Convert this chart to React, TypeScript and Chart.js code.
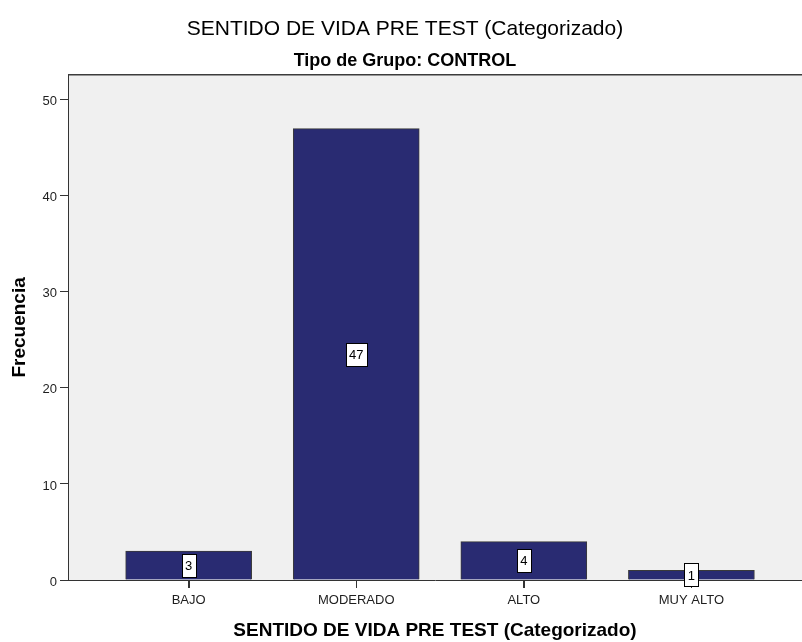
import React, { useEffect, useRef } from "react";
import { Chart, registerables } from "chart.js";

Chart.register(...registerables);

const categories = ["BAJO", "MODERADO", "ALTO", "MUY ALTO"];
const frequencies = [3, 47, 4, 1];
const yTicks = [0, 10, 20, 30, 40, 50];

const FONT = "'Liberation Sans', Arial, sans-serif";

const plotBackground = {
  id: "plotBackground",
  beforeDraw(chart: any) {
    const { ctx, chartArea } = chart;
    ctx.save();
    ctx.fillStyle = "#f0f0f0";
    ctx.fillRect(chartArea.left, chartArea.top, chartArea.right - chartArea.left, chartArea.bottom - chartArea.top);
    ctx.restore();
  },
  beforeDatasetsDraw(chart: any) {
    const { ctx, chartArea, scales } = chart;
    ctx.save();
    ctx.strokeStyle = "#333";
    ctx.lineWidth = 1;
    categories.forEach((_, i) => {
      const x = Math.round(scales.x.getPixelForValue(i)) + 0.5;
      ctx.beginPath();
      ctx.moveTo(x, chartArea.bottom);
      ctx.lineTo(x, chartArea.bottom + 8);
      ctx.stroke();
    });
    ctx.restore();
  },
  afterDraw(chart: any) {
    const { ctx, chartArea } = chart;
    ctx.save();
    ctx.strokeStyle = "#3c3c3c";
    ctx.lineWidth = 1.5;
    ctx.beginPath();
    ctx.moveTo(chartArea.left, chartArea.top);
    ctx.lineTo(chartArea.right, chartArea.top);
    ctx.stroke();
    ctx.restore();
  },
};

const boxLabels = {
  id: "boxLabels",
  afterDatasetsDraw(chart: any) {
    const { ctx } = chart;
    const meta = chart.getDatasetMeta(0);
    ctx.save();
    ctx.font = `13px ${FONT}`;
    ctx.textAlign = "center";
    ctx.textBaseline = "middle";
    meta.data.forEach((bar: any, i: number) => {
      const text = String(frequencies[i]);
      const cy = (bar.y + bar.base) / 2;
      const w = ctx.measureText(text).width + 7;
      const h = 23;
      const x0 = Math.round(bar.x - w / 2) + 0.5;
      const y0 = Math.round(cy - h / 2) + 0.5;
      ctx.fillStyle = "#ffffff";
      ctx.fillRect(x0, y0, Math.round(w), h);
      ctx.strokeStyle = "#000000";
      ctx.lineWidth = 1;
      ctx.strokeRect(x0, y0, Math.round(w), h);
      ctx.fillStyle = "#000000";
      ctx.fillText(text, bar.x, cy + 1);
    });
    ctx.restore();
  },
};

export default function App() {
  const canvasRef = useRef<HTMLCanvasElement | null>(null);

  useEffect(() => {
    document.body.style.margin = "0";
    const canvas = canvasRef.current;
    if (!canvas) return;
    const chart = new Chart(canvas, {
      type: "bar",
      data: {
        datasets: [
          {
            data: frequencies.map((v, i) => ({ x: i, y: v })),
            backgroundColor: "#292b72",
            borderColor: "#3a3a3a",
            borderWidth: 1,
            barThickness: 126,
          },
        ],
      },
      options: {
        responsive: false,
        animation: false,
        devicePixelRatio: 1,
        layout: { padding: { left: 8, right: 0, top: 0, bottom: 0 } },
        plugins: {
          legend: { display: false },
          tooltip: { enabled: false },
          title: {
            display: true,
            text: "SENTIDO DE VIDA PRE TEST (Categorizado)",
            color: "#000",
            font: { family: FONT, size: 21, weight: "normal" },
            padding: { top: 17, bottom: 0 },
          },
          subtitle: {
            display: true,
            text: "Tipo de Grupo: CONTROL",
            color: "#000",
            font: { family: FONT, size: 18, weight: "bold" },
            padding: { top: 8, bottom: 3 },
          },
        },
        scales: {
          x: {
            type: "linear",
            min: -0.72,
            max: 3.66,
            offset: false,
            afterBuildTicks: (scale: any) => {
              scale.ticks = categories.map((_, i) => ({ value: i }));
            },
            afterFit: (scale: any) => {
              scale.height = 62;
            },
            grid: {
              offset: false,
              drawOnChartArea: false,
              drawTicks: true,
              tickLength: 8,
              color: "#333",
            },
            border: { display: true, color: "#333", width: 1 },
            ticks: {
              autoSkip: false,
              maxRotation: 0,
              padding: 5,
              color: "#1e1e1e",
              font: { family: FONT, size: 13 },
              callback: (v: any) => categories[v] ?? "",
            },
            title: {
              display: true,
              text: "SENTIDO DE VIDA PRE TEST (Categorizado)",
              color: "#000",
              font: { family: FONT, size: 19, weight: "bold" },
              padding: { top: 0, bottom: 0 },
            },
          },
          y: {
            min: 0,
            max: 52.6,
            afterBuildTicks: (scale: any) => {
              scale.ticks = yTicks.map((v) => ({ value: v }));
            },
            afterFit: (scale: any) => {
              scale.width = 60;
            },
            grid: {
              drawOnChartArea: false,
              drawTicks: true,
              tickLength: 8,
              color: "#333",
            },
            border: { display: true, color: "#333", width: 1 },
            ticks: {
              padding: 3,
              labelOffset: 2,
              color: "#1e1e1e",
              font: { family: FONT, size: 13 },
            },
            title: {
              display: true,
              text: "Frecuencia",
              color: "#000",
              font: { family: FONT, size: 19, weight: "bold" },
              padding: 0,
            },
          },
        },
      },
      plugins: [plotBackground, boxLabels],
    });
    return () => chart.destroy();
  }, []);

  return (
    <div style={{ width: 802, height: 642 }}>
      <canvas ref={canvasRef} width={802} height={642} style={{ display: "block" }} />
    </div>
  );
}
